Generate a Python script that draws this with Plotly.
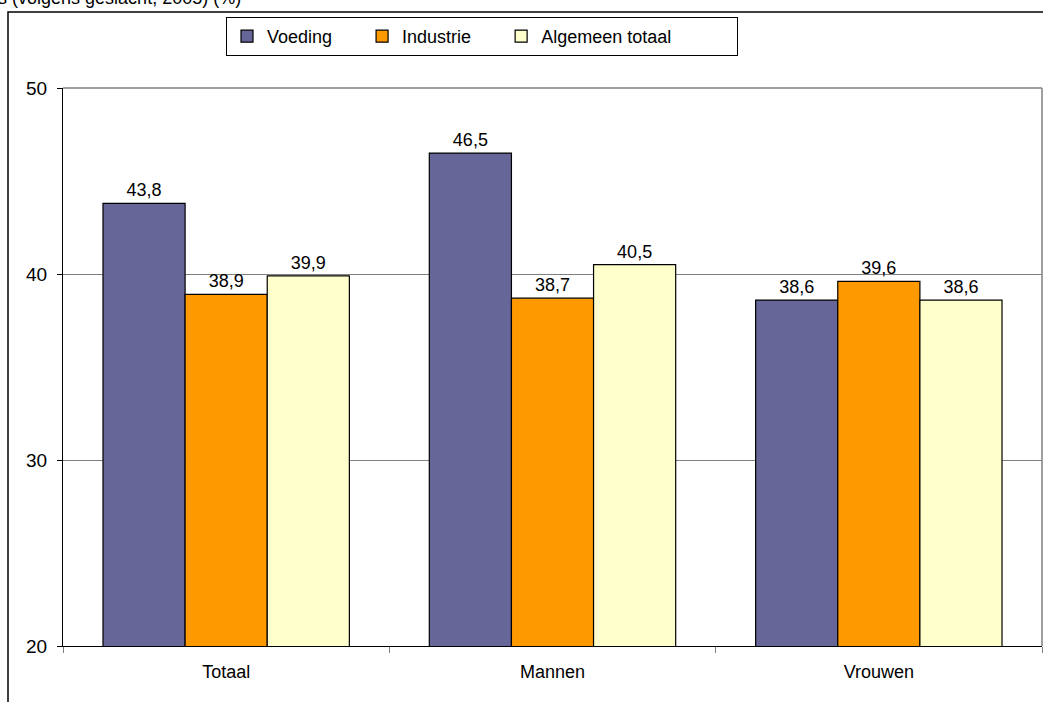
import plotly.graph_objects as go

categories = ["Totaal", "Mannen", "Vrouwen"]
series_names = ["Voeding", "Industrie", "Algemeen totaal"]
voeding = [43.8, 46.5, 38.6]
industrie = [38.9, 38.7, 39.6]
algemeen = [39.9, 40.5, 38.6]
colors = ["#666699", "#FF9900", "#FFFFCC"]
y_ticks = [20, 30, 40, 50]

FONT = "Liberation Sans, Arial, sans-serif"
NB = "\u00a0"
legend_pad = [NB * 5, NB * 5, NB * 12]

fig = go.Figure()
for name, pad, vals, col in zip(series_names, legend_pad, [voeding, industrie, algemeen], colors):
    fig.add_trace(go.Bar(
        x=categories, y=vals, name=name + pad,
        marker=dict(color=col, line=dict(color="#000000", width=1.2)),
        text=[f"{v:.1f}".replace(".", ",") for v in vals],
        textposition="outside", cliponaxis=False,
        textfont=dict(family=FONT, size=18, color="#000000"),
    ))

W, H = 1043, 702
L, R, T, B = 63, 1, 88, 56
pw, ph = W - L - R, H - T - B

def px(x):
    return (x - L) / pw

def py(y):
    return 1 - (y - T) / ph

fig.update_layout(
    width=W, height=H,
    margin=dict(l=L, r=R, t=T, b=B),
    paper_bgcolor="white", plot_bgcolor="white",
    barmode="group", bargap=0.245, bargroupgap=0,
    font=dict(family=FONT, size=18, color="#000000"),
    showlegend=True,
    legend=dict(
        orientation="h", x=px(226), xanchor="left", y=py(17), yanchor="top",
        bordercolor="#000000", borderwidth=1, bgcolor="white",
        font=dict(family=FONT, size=18, color="#000000"),
    ),
    xaxis=dict(
        showline=True, linecolor="#000000", linewidth=1.2,
        ticks="outside", tickson="boundaries", ticklen=6, tickcolor="#808080",
        showgrid=False, ticklabelstandoff=9,
        tickfont=dict(family=FONT, size=18),
    ),
    yaxis=dict(
        range=[20, 50], tickvals=y_ticks, ticktext=[str(v) for v in y_ticks],
        showline=True, linecolor="#000000", linewidth=1.2,
        ticks="outside", ticklen=5, tickcolor="#000000",
        showgrid=True, gridcolor="#808080", gridwidth=1,
        zeroline=False, ticklabelstandoff=6,
        tickfont=dict(family=FONT, size=19),
    ),
    shapes=[
        dict(type="line", xref="paper", yref="paper", x0=1, x1=1, y0=0, y1=1,
             line=dict(color="#808080", width=1.5)),
        dict(type="line", xref="paper", yref="paper", x0=0, x1=1, y0=1, y1=1,
             line=dict(color="#808080", width=1.5)),
        dict(type="rect", xref="paper", yref="paper",
             x0=px(8), x1=px(1060), y0=py(760), y1=py(12),
             line=dict(color="#000000", width=1.5), layer="below"),
    ],
    annotations=[
        dict(text="Arbeidsstatus (volgens geslacht, 2005) (%)", xref="paper", yref="paper",
             x=px(243), y=py(-2), xanchor="right", yanchor="middle",
             showarrow=False, font=dict(family=FONT, size=18, color="#000000")),
    ],
)

fig.write_html(
    "out.html",
    config={"displayModeBar": False},
    post_script="document.body.style.margin='0';document.body.style.overflow='hidden';",
)
